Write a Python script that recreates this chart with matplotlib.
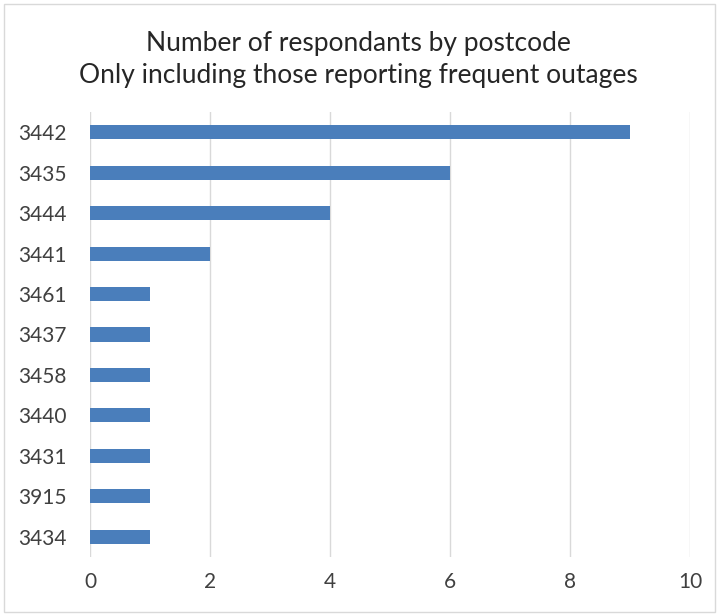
"""Horizontal bar chart: respondants by postcode reporting frequent outages."""

import matplotlib

matplotlib.use("Agg")
import matplotlib.pyplot as plt
from matplotlib.patches import Rectangle

BLUE = "#4A7EBB"
GRID = "#D9D9D9"
TEXT = "#404040"

postcodes = ["3442", "3435", "3444", "3441", "3461", "3437", "3458", "3440", "3431", "3915", "3434"]
counts = [9, 6, 4, 2, 1, 1, 1, 1, 1, 1, 1]
x_ticks = [0, 2, 4, 6, 8, 10]

plt.rcParams["font.family"] = ["Lato", "DejaVu Sans"]

W, H = 717, 614
fig = plt.figure(figsize=(W / 100, H / 100), dpi=100)
fig.patches.append(Rectangle((4 / W, 1 - 612 / H), 711 / W, 608 / H, transform=fig.transFigure,
                             fill=False, edgecolor=GRID, lw=1.0))

# plot area in pixels: x 90..690, y 112..557
ax = fig.add_axes([90 / W, 1 - 557 / H, 600 / W, 445 / H])
y = list(range(len(postcodes)))
ax.barh(y, counts, height=0.35, color=BLUE, zorder=3)
ax.set_ylim(len(postcodes) - 0.5, -0.5)
ax.set_xlim(0, 10)
ax.set_yticks(y, postcodes)
ax.set_xticks(x_ticks, [str(t) for t in x_ticks])
ax.tick_params(axis="both", length=0, labelsize=15, colors=TEXT)
ax.tick_params(axis="y", pad=17)
ax.tick_params(axis="x", pad=11)
ax.grid(axis="x", color=GRID, lw=1.0, zorder=0)
for s in ax.spines.values():
    s.set_visible(False)

fig.text(0.5, 1 - 43 / H, "Number of respondants by postcode", ha="center", va="center",
         fontsize=19, color="#262626")
fig.text(0.5, 1 - 76 / H, "Only including those reporting frequent outages", ha="center", va="center",
         fontsize=19, color="#262626")

fig.savefig("out.png", dpi=100)
